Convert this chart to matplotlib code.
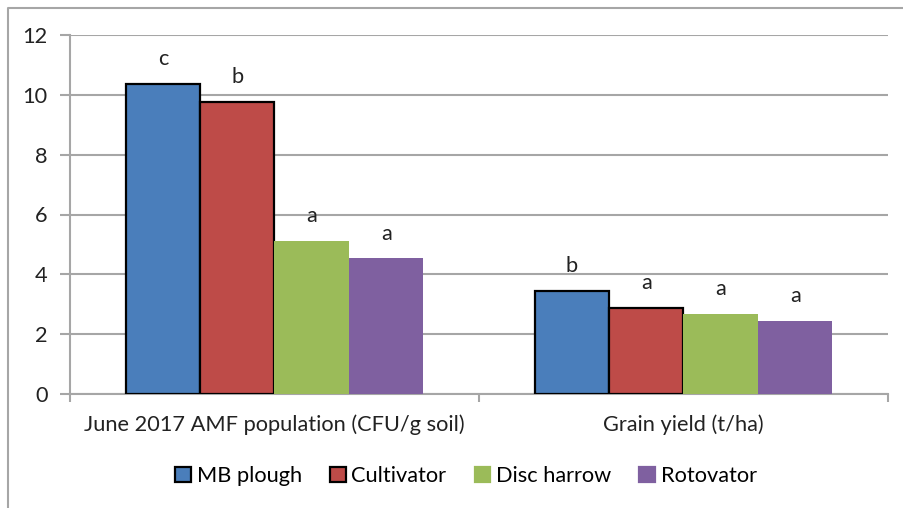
import matplotlib
matplotlib.use("Agg")
import matplotlib.pyplot as plt
import numpy as np
from matplotlib.lines import Line2D
from matplotlib.patches import Patch

categories = ["June 2017 AMF population (CFU/g soil)", "Grain yield (t/ha)"]
series = ["MB plough", "Cultivator", "Disc harrow", "Rotovator"]
mb_plough = [10.37, 3.44]
cultivator = [9.76, 2.89]
disc_harrow = [5.13, 2.67]
rotovator = [4.53, 2.43]
letters = [["c", "b"], ["b", "a"], ["a", "a"], ["a", "a"]]
yticks = [0, 2, 4, 6, 8, 10, 12]

colors = ["#4A7EBB", "#BE4B48", "#9BBB59", "#7F60A0"]
edges = ["black", "black", "none", "none"]

plt.rcParams['font.family'] = ['Lato', 'DejaVu Sans']
FS = 15.7
W, H = 904, 508
fig = plt.figure(figsize=(W / 100, H / 100), dpi=100)
ax = fig.add_axes([70 / W, 1 - 394 / H, (888 - 70) / W, (394 - 35) / H])

vals = [mb_plough, cultivator, disc_harrow, rotovator]
x = np.arange(len(categories))
bw = 0.182
for i, (v, c, e) in enumerate(zip(vals, colors, edges)):
    pos = x + (i - 1.5) * bw
    ax.bar(pos, v, bw, color=c, edgecolor=e, linewidth=1.6 if e != "none" else 0,
           label=series[i], zorder=3)
    for p, val, lt in zip(pos, v, letters[i]):
        ax.text(p, val + 0.5, lt, ha="center", va="bottom", fontsize=FS, color="#222222")

ax.set_xlim(-0.5, 1.5)
ax.set_ylim(0, 12)
ax.set_yticks(yticks)
ax.set_yticklabels([str(t) for t in yticks], fontsize=FS)
ax.yaxis.grid(True, color="#A6A6A6", linewidth=1.5, zorder=0)
ax.set_axisbelow(True)
ax.tick_params(axis="y", length=7, color="#A6A6A6", width=1.5, pad=9, labelcolor="#222222")
ax.set_xticks([-0.5, 0.5, 1.5])
ax.set_xticklabels([])
ax.set_xticks(x, minor=True)
ax.set_xticklabels(categories, minor=True, fontsize=FS, color="#222222")
ax.tick_params(axis="x", which="major", length=6, color="#A6A6A6", width=1.5)
ax.tick_params(axis="x", which="minor", length=0, pad=15)
for s in ["top", "right"]:
    ax.spines[s].set_visible(False)
for s in ["left", "bottom"]:
    ax.spines[s].set_color("#A6A6A6")
    ax.spines[s].set_linewidth(1.5)

handles = [Patch(facecolor=c, edgecolor=e if e != "none" else c, linewidth=1.6)
           for c, e in zip(colors, edges)]
fig.legend(handles, series, loc="center", bbox_to_anchor=(466 / W, 1 - 476 / H),
           ncol=4, frameon=False, fontsize=FS, handlelength=0.72, handleheight=0.72,
           handletextpad=0.25, columnspacing=1.3, borderpad=0)

fig.add_artist(Line2D([8 / W, 8 / W, 1.0], [0.0, 1 - 8 / H, 1 - 8 / H],
                      transform=fig.transFigure, color="#A6A6A6", linewidth=1.5))

fig.savefig("out.png", dpi=100)
